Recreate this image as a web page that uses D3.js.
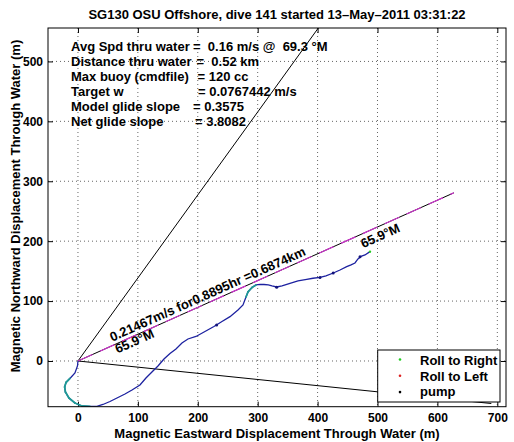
<!DOCTYPE html>
<html><head><meta charset="utf-8">
<script src="https://cdn.jsdelivr.net/npm/d3@7"></script>
<style>
body{margin:0;background:#fff}
text{font-family:"Liberation Sans",Arial,Helvetica,sans-serif;font-weight:bold;fill:#000}
</style>
</head><body>
<svg id="c" width="514" height="442"></svg>
<script>
// ---------- data ----------
const titleText = "SG130 OSU Offshore, dive 141 started 13\u2013May\u20132011 03:31:22";
const xLabelText = "Magnetic Eastward Displacement Through Water (m)";
const yLabelText = "Magnetic Northward Displacement Through Water (m)";
const xTicks = [0,100,200,300,400,500,600,700];
const yTicks = [0,100,200,300,400,500];
const xDomain = [-50, 714.5];
const yDomain = [-76.3, 555.8];

const infoLabels = ["Avg Spd thru water","Distance thru water","Max buoy (cmdfile)","Target w","Model glide slope","Net glide slope"];
const infoValues = ["=  0.16 m/s @  69.3 \u00B0M","=  0.52 km","= 120 cc","= 0.0767442 m/s","= 0.3575","= 3.8082"];

// dive track (m east, m north)
const trackX = [0,-0.8,-5.0,-13.4,-20.0,-22.2,-20.9,-15.0,-5.0,6.7,20.0,31.7,41.7,53.4,66.8,78.5,90.2,103.5,113.5,123.5,133.6,143.6,153.6,163.6,173.6,183.6,197.0,212.0,227.0,240.4,253.8,267.1,275.5,280.5,283.8,290.5,297.2,303.8,310.5,317.7,323.9,331.7,340.6,353.9,367.3,381.8,392.3,404.0,414.0,426.2,437.4,448.6,455.8,462.4,467.4,472.5,479.1,487.5];
const trackY = [0,-8.3,-20.0,-29.2,-35.9,-43.4,-51.8,-61.8,-70.1,-75.1,-75.8,-75.6,-72.6,-67.6,-60.9,-55.1,-48.4,-40.1,-28.4,-18.4,-8.3,3.3,12.5,20.0,30.1,36.7,40.9,49.2,57.6,65.9,74.0,85.1,93.5,106.8,115.2,122.7,126.9,128.0,127.7,126.9,125.2,123.5,125.2,129.7,133.6,136.4,138.1,139.4,141.9,146.9,151.9,157.4,160.3,163.6,170.3,174.5,177.0,182.5];
// 1 = near-surface (teal), 0 = deep (blue)
const trackClass = [0,0,0,1,1,1,1,1,1,1,1,0,0,0,0,0,0,0,0,0,0,0,0,0,0,0,0,0,0,0,0,0,0,1,1,1,1,0,0,0,0,0,0,0,0,0,0,0,0,0,0,0,0,0,0,0,0,0];
const pumpX = [231.5,331.7,404.0,426.0,470.8];
const pumpY = [60.1,123.0,139.4,147.0,174.0];

// reference lines from origin
const refLineEnds = [[401.2,555.8],[690,-71]];
const courseHeading = 65.9;   // deg magnetic
const courseDist = 687.4;     // m
const courseSpeed = "0.21467m/s for0.8895hr =0.6874km";
const courseHeadingLabel = "65.9\u00B0M";

const legendItems = [["Roll to Right","#22cc22"],["Roll to Left","#dd2222"],["pump","#000"]];

// ---------- layout ----------
const L=48,R=506,T=28,B=406.7;
const svg=d3.select("#c");
const x=d3.scaleLinear().domain(xDomain).range([L,R]);
const y=d3.scaleLinear().domain(yDomain).range([B,T]);

svg.append("defs").append("clipPath").attr("id","clip")
  .append("rect").attr("x",L).attr("y",T).attr("width",R-L).attr("height",B-T);

// grid
const g=svg.append("g");
g.selectAll(".gx").data(xTicks).join("line")
  .attr("x1",d=>x(d)).attr("x2",d=>x(d)).attr("y1",T).attr("y2",B)
  .attr("stroke","#666").attr("stroke-width",1).attr("stroke-dasharray","1,3");
g.selectAll(".gy").data(yTicks).join("line")
  .attr("y1",d=>y(d)).attr("y2",d=>y(d)).attr("x1",L).attr("x2",R)
  .attr("stroke","#666").attr("stroke-width",1).attr("stroke-dasharray","1,3");

// axes with inward ticks
const tl=5;
const axB=d3.axisBottom(x).tickValues(xTicks).tickSize(-tl).tickPadding(6.5).tickFormat(d3.format("d"));
const axT=d3.axisTop(x).tickValues(xTicks).tickSize(-tl).tickFormat("");
const axL=d3.axisLeft(y).tickValues(yTicks).tickSize(-tl).tickPadding(5).tickFormat(d3.format("d"));
const axR=d3.axisRight(y).tickValues(yTicks).tickSize(-tl).tickFormat("");
function styleAx(sel){
  sel.select(".domain").remove();
  sel.selectAll(".tick line").attr("stroke","#000");
  sel.selectAll(".tick text").style("font-size","12px").style("font-family",'"Liberation Sans",Arial,sans-serif').style("font-weight","bold").attr("fill","#000");
}
svg.append("g").attr("transform",`translate(0,${B})`).call(axB).call(styleAx);
svg.append("g").attr("transform",`translate(0,${T})`).call(axT).call(styleAx);
svg.append("g").attr("transform",`translate(${L},0)`).call(axL).call(styleAx);
svg.append("g").attr("transform",`translate(${R},0)`).call(axR).call(styleAx);

const plot=svg.append("g").attr("clip-path","url(#clip)");

// reference lines
plot.selectAll(".ref").data(refLineEnds).join("line")
  .attr("x1",x(0)).attr("y1",y(0)).attr("x2",d=>x(d[0])).attr("y2",d=>y(d[1]))
  .attr("stroke","#000").attr("stroke-width",1);

// course line (black + magenta dashes)
const rad=courseHeading*Math.PI/180;
const cx=courseDist*Math.sin(rad), cy=courseDist*Math.cos(rad);
plot.append("line").attr("x1",x(0)).attr("y1",y(0)).attr("x2",x(cx)).attr("y2",y(cy))
  .attr("stroke","#000").attr("stroke-width",1);
plot.append("line").attr("x1",x(0)).attr("y1",y(0)).attr("x2",x(cx)).attr("y2",y(cy))
  .attr("stroke","#cc33cc").attr("stroke-width",1.2).attr("stroke-dasharray","16,8");

// track
const pts=trackX.map((v,i)=>[x(v),y(trackY[i])]);
plot.append("path").attr("d",d3.line()(pts)).attr("fill","none")
  .attr("stroke","#1d22a0").attr("stroke-width",1.3);
for(let i=0;i<pts.length-1;i++){
  if(trackClass[i]&&trackClass[i+1]){
    plot.append("line").attr("x1",pts[i][0]).attr("y1",pts[i][1]).attr("x2",pts[i+1][0]).attr("y2",pts[i+1][1])
      .attr("stroke","#1f9a96").attr("stroke-width",1.8).attr("stroke-linecap","round");
  }
}
plot.selectAll(".pump").data(pumpX).join("circle")
  .attr("cx",d=>x(d)).attr("cy",(d,i)=>y(pumpY[i])).attr("r",1.5).attr("fill","#12137a");
plot.append("circle").attr("cx",x(trackX[trackX.length-1])).attr("cy",y(trackY[trackY.length-1])).attr("r",1.2).attr("fill","#22cc22");

// rotated course labels
const ang=Math.atan2(y(0)-y(cy), x(cx)-x(0));
const nx=Math.sin(ang), ny=Math.cos(ang);
const deg=-ang*180/Math.PI;
function labelAt(t,off,txt){
  const px=x(cx*t), py=y(cy*t);
  svg.append("text")
    .attr("transform",`translate(${px+nx*off},${py+ny*off}) rotate(${deg})`)
    .style("font-size","13px").text(txt);
}
labelAt(0.095,-3.6,courseSpeed);
labelAt(0.095,9.4,courseHeadingLabel);
labelAt(0.744,13.5,courseHeadingLabel);

// frame
svg.append("rect").attr("x",L).attr("y",T).attr("width",R-L).attr("height",B-T)
  .attr("fill","none").attr("stroke","#000").attr("stroke-width",1);

// info text block
const info=svg.append("g");
const valueX=[193,196.5,197.5,198,193,195];
infoLabels.forEach((s,i)=>{
  const t=info.append("text").attr("y",51+15*i).style("font-size","13px").attr("xml:space","preserve");
  t.append("tspan").attr("x",71).text(s);
  t.append("tspan").attr("x",valueX[i]).text(infoValues[i]);
});

// legend
const lg=svg.append("g");
lg.append("rect").attr("x",377.7).attr("y",350).attr("width",122.3).attr("height",52)
  .attr("fill","#fff").attr("stroke","#000").attr("stroke-width",1);
legendItems.forEach((d,i)=>{
  lg.append("circle").attr("cx",400).attr("cy",359.5+16.3*i).attr("r",1.3).attr("fill",d[1]);
  lg.append("text").attr("x",420).attr("y",365+15.5*i).style("font-size","13px").text(d[0]);
});

// title & labels
svg.append("text").attr("x",(L+R)/2).attr("y",19).attr("text-anchor","middle").style("font-size","13px").text(titleText);
svg.append("text").attr("x",(L+R)/2).attr("y",437.5).attr("text-anchor","middle").style("font-size","13px").text(xLabelText);
svg.append("text").attr("transform",`translate(19.5,206) rotate(-90)`).attr("text-anchor","middle").style("font-size","13px").text(yLabelText);
</script>
</body></html>
